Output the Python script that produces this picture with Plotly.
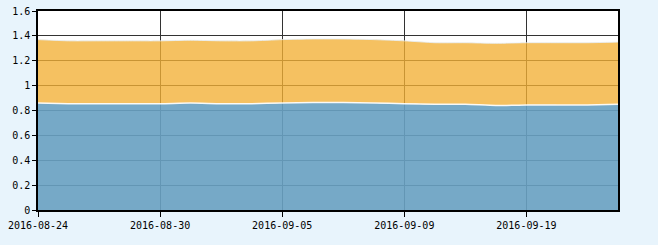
import plotly.graph_objects as go

dates = ["2016-08-24", "2016-08-25", "2016-08-26", "2016-08-29", "2016-08-30",
         "2016-08-31", "2016-09-01", "2016-09-02", "2016-09-05", "2016-09-06",
         "2016-09-07", "2016-09-08", "2016-09-09", "2016-09-12", "2016-09-13",
         "2016-09-14", "2016-09-19", "2016-09-20", "2016-09-21", "2016-09-22"]
blue_vals = [0.86, 0.855, 0.855, 0.855, 0.855, 0.86, 0.855, 0.855, 0.86, 0.865,
             0.865, 0.86, 0.855, 0.85, 0.85, 0.84, 0.845, 0.845, 0.845, 0.85]
orange_vals = [0.51, 0.505, 0.505, 0.505, 0.505, 0.505, 0.505, 0.505, 0.51, 0.51,
               0.51, 0.51, 0.505, 0.495, 0.495, 0.50, 0.50, 0.50, 0.50, 0.50]
tick_dates = ["2016-08-24", "2016-08-30", "2016-09-05", "2016-09-09", "2016-09-19"]
y_ticks = [0, 0.2, 0.4, 0.6, 0.8, 1, 1.2, 1.4, 1.6]

fig = go.Figure()
fig.add_trace(go.Scatter(
    x=dates, y=blue_vals, mode="lines", stackgroup="s",
    line=dict(color="rgba(255,255,255,0.9)", width=1.5, shape="spline", smoothing=0.6),
    fillcolor="rgba(104,160,193,0.91)", showlegend=False, hoverinfo="skip"))
fig.add_trace(go.Scatter(
    x=dates, y=orange_vals, mode="lines", stackgroup="s",
    line=dict(color="rgba(230,240,250,0.8)", width=1, shape="spline", smoothing=0.6),
    fillcolor="rgba(242,176,52,0.78)", showlegend=False, hoverinfo="skip"))

font = dict(family="DejaVu Sans Mono, Liberation Mono, monospace", size=10, color="#000")
fig.update_layout(
    width=658, height=245,
    margin=dict(l=38, r=40, t=11, b=35),
    paper_bgcolor="#e8f4fc", plot_bgcolor="#ffffff",
    font=font,
    xaxis=dict(type="category", range=[0, len(dates) - 1], automargin=False,
               tickmode="array", tickvals=tick_dates, ticktext=tick_dates,
               showgrid=True, gridcolor="#333333", gridwidth=1,
               showline=True, linecolor="#000000", linewidth=1.5, mirror=True,
               ticks="outside", ticklen=5, tickcolor="#000", tickangle=0,
               zeroline=False),
    yaxis=dict(range=[0, 1.6], tickvals=y_ticks, automargin=False,
               showgrid=True, gridcolor="#333333", gridwidth=1,
               showline=True, linecolor="#000000", linewidth=1.5, mirror=True,
               ticks="outside", ticklen=4, tickcolor="#000",
               zeroline=False),
)
fig.write_html("out.html")
